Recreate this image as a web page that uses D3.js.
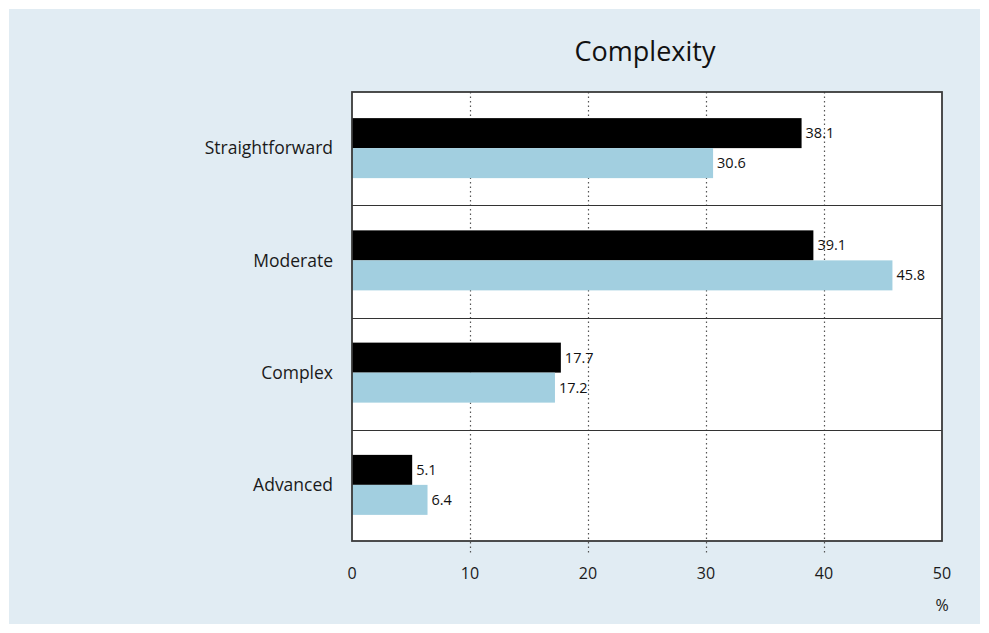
<!DOCTYPE html>
<html>
<head>
<meta charset="utf-8">
<script src="https://cdn.jsdelivr.net/npm/d3@7"></script>
<style>
  html, body { margin: 0; padding: 0; background: #ffffff; }
  svg { display: block; font-family: "Open Sans", "Noto Sans", sans-serif; }
</style>
</head>
<body>
<svg id="chart" width="989" height="633"></svg>
<script>
// Chart data
const title = "Complexity";
const categories = ["Straightforward", "Moderate", "Complex", "Advanced"];
const seriesA = [38.1, 39.1, 17.7, 5.1];   // black bars
const seriesB = [30.6, 45.8, 17.2, 6.4];   // light blue bars
const xTicks = [0, 10, 20, 30, 40, 50];
const xUnit = "%";

const svg = d3.select("#chart");
const W = 989, H = 633;

// Panel background
svg.append("rect")
  .attr("x", 9).attr("y", 9).attr("width", W - 18).attr("height", H - 18)
  .attr("fill", "#e1ecf3");

const plot = { left: 352, right: 942, top: 92, bottom: 541 };

const x = d3.scaleLinear().domain([0, 50]).range([plot.left, plot.right]);
const y = d3.scaleBand().domain(categories).range([plot.top, plot.bottom]).paddingInner(0).paddingOuter(0);
const barH = 30;

// Plot background
svg.append("rect")
  .attr("x", plot.left).attr("y", plot.top)
  .attr("width", plot.right - plot.left).attr("height", plot.bottom - plot.top)
  .attr("fill", "#ffffff");

// Dotted vertical gridlines
svg.append("g").selectAll("line")
  .data(xTicks.filter(t => t > 0 && t < 50))
  .join("line")
  .attr("x1", d => Math.round(x(d)) + 0.5).attr("x2", d => Math.round(x(d)) + 0.5)
  .attr("y1", plot.top).attr("y2", plot.bottom + 12)
  .attr("stroke", "#555").attr("stroke-width", 1.2)
  .attr("stroke-dasharray", "1.5,3");

// Category separators
svg.append("g").selectAll("line")
  .data(categories.slice(1))
  .join("line")
  .attr("x1", plot.left).attr("x2", plot.right)
  .attr("y1", d => Math.round(y(d)) + 1.5).attr("y2", d => Math.round(y(d)) + 1.5)
  .attr("stroke", "#333").attr("stroke-width", 1.2);

// Bars
const rows = categories.map((c, i) => ({ c, a: seriesA[i], b: seriesB[i] }));
const g = svg.append("g");
g.selectAll("rect.a").data(rows).join("rect")
  .attr("class", "a")
  .attr("x", x(0)).attr("y", d => y(d.c) + y.bandwidth() / 2 - barH)
  .attr("width", d => x(d.a) - x(0)).attr("height", barH)
  .attr("fill", "#000000");
g.selectAll("rect.b").data(rows).join("rect")
  .attr("class", "b")
  .attr("x", x(0)).attr("y", d => y(d.c) + y.bandwidth() / 2)
  .attr("width", d => x(d.b) - x(0)).attr("height", barH)
  .attr("fill", "#a2cfe0");

// Value labels
g.selectAll("text.la").data(rows).join("text")
  .attr("x", d => x(d.a) + 4).attr("y", d => y(d.c) + y.bandwidth() / 2 - barH / 2)
  .attr("dy", "0.35em").attr("font-size", 14.5).attr("fill", "#111")
  .text(d => d.a.toFixed(1));
g.selectAll("text.lb").data(rows).join("text")
  .attr("x", d => x(d.b) + 4).attr("y", d => y(d.c) + y.bandwidth() / 2 + barH / 2)
  .attr("dy", "0.35em").attr("font-size", 14.5).attr("fill", "#111")
  .text(d => d.b.toFixed(1));

// Frame
svg.append("rect")
  .attr("x", plot.left).attr("y", plot.top)
  .attr("width", plot.right - plot.left).attr("height", plot.bottom - plot.top)
  .attr("fill", "none").attr("stroke", "#3a3a3a").attr("stroke-width", 1.8);

// Category labels
svg.append("g").selectAll("text")
  .data(categories).join("text")
  .attr("x", plot.left - 19).attr("y", d => y(d) + y.bandwidth() / 2)
  .attr("dy", "0.35em").attr("text-anchor", "end")
  .attr("font-size", 17.5).attr("fill", "#1a1a1a")
  .text(d => d);

// X axis tick labels
svg.append("g").selectAll("text")
  .data(xTicks).join("text")
  .attr("x", d => x(d)).attr("y", 573)
  .attr("dy", "0.35em").attr("text-anchor", "middle")
  .attr("font-size", 16).attr("fill", "#1a1a1a")
  .text(d => d);

svg.append("text")
  .attr("x", x(50)).attr("y", 605).attr("dy", "0.35em")
  .attr("text-anchor", "middle").attr("font-size", 16).attr("fill", "#1a1a1a")
  .text(xUnit);

// Title
svg.append("text")
  .attr("x", (plot.left + plot.right) / 2 - 2).attr("y", 52)
  .attr("dy", "0.35em").attr("text-anchor", "middle")
  .attr("font-size", 27).attr("fill", "#111")
  .text(title);
</script>
</body>
</html>
